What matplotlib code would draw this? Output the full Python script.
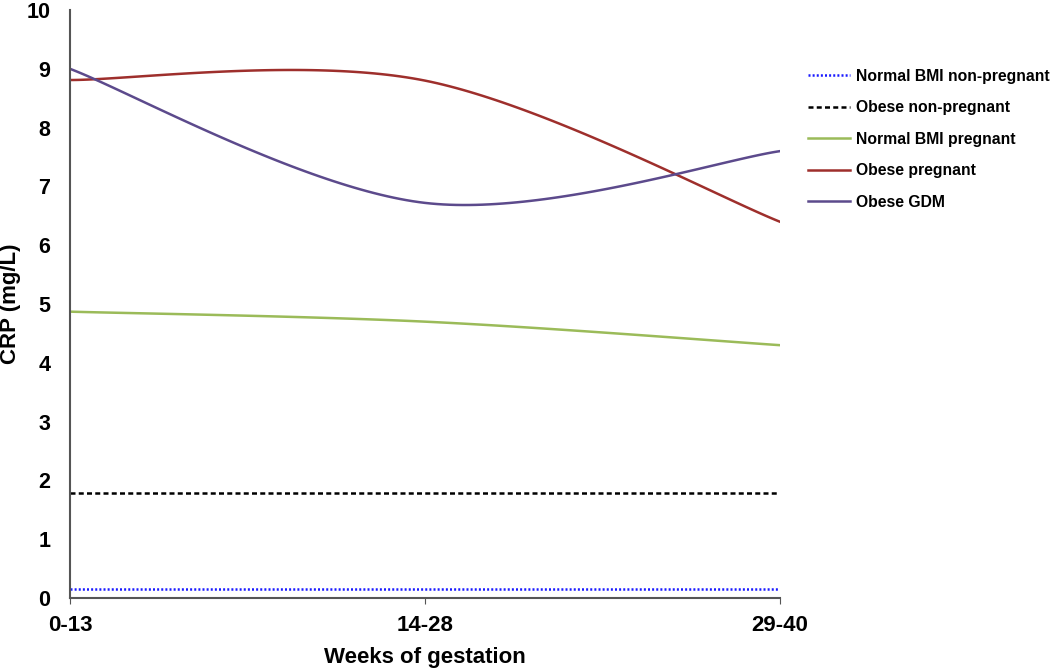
import numpy as np
import matplotlib.pyplot as plt

plt.rcParams['font.family'] = ['Liberation Sans', 'DejaVu Sans']
plt.rcParams['font.weight'] = 'bold'

weeks = ['0-13', '14-28', '29-40']

normal_nonpreg = [0.15, 0.15, 0.15]
obese_nonpreg = [1.78, 1.78, 1.78]
normal_preg = [4.87, 4.70, 4.30]
obese_preg = [8.81, 8.80, 6.40]
obese_gdm = [9.00, 6.72, 7.60]


def smooth(y, n=60):
    # excel-like smoothed line (catmull-rom as bezier segments)
    y = np.asarray(y, dtype=float)
    x = np.arange(len(y), dtype=float)
    pts = np.column_stack([x, y])
    ext = np.vstack([pts[0], pts, pts[-1]])
    out = []
    t = np.linspace(0, 1, n)[:, None]
    for i in range(len(pts) - 1):
        p0, p3 = ext[i + 1], ext[i + 2]
        p1 = p0 + (ext[i + 2] - ext[i]) / 6
        p2 = p3 - (ext[i + 3] - ext[i + 1]) / 6
        seg = ((1 - t) ** 3) * p0 + 3 * ((1 - t) ** 2) * t * p1 + 3 * (1 - t) * t ** 2 * p2 + t ** 3 * p3
        out.append(seg if i == 0 else seg[1:])
    out = np.vstack(out)
    return out[:, 0], out[:, 1]


fig = plt.figure(figsize=(10.5, 6.7), dpi=100)
ax = fig.add_axes([0.0667, 0.1075, 0.676, 0.8775])

series = [
    (normal_nonpreg, 'Normal BMI non-pregnant', '#1a1aff', (0, (0.8, 0.85))),
    (obese_nonpreg, 'Obese non-pregnant', 'black', (0, (2.0, 1.3))),
    (normal_preg, 'Normal BMI pregnant', '#9BBB59', '-'),
    (obese_preg, 'Obese pregnant', '#9E2F2C', '-'),
    (obese_gdm, 'Obese GDM', '#5C4A8C', '-'),
]
for vals, name, col, ls in series:
    xs, ys = smooth(vals)
    ax.plot(xs, ys, color=col, linestyle=ls, lw=1.8, label=name)

ax.set_xlim(0, 2)
ax.set_ylim(0, 10)
ax.set_xticks(range(len(weeks)))
ax.set_xticklabels(weeks, fontsize=16)
ax.set_yticks(range(0, 11))
ax.tick_params(axis='y', length=0, labelsize=15.5, pad=14)
ax.tick_params(axis='x', length=4, color='#555555', pad=8)
for s in ['top', 'right']:
    ax.spines[s].set_visible(False)
for s in ['left', 'bottom']:
    ax.spines[s].set_color('#555555')
    ax.spines[s].set_linewidth(1.5)

ax.set_xlabel('Weeks of gestation', fontsize=16, fontweight='bold')
ax.xaxis.set_label_coords(0.5, -0.084)
ax.set_ylabel('CRP (mg/L)', fontsize=16, fontweight='bold')
ax.yaxis.set_label_coords(-0.069, 0.5)

fig.legend(loc='upper left', bbox_to_anchor=(0.762, 0.909), frameon=False, fontsize=11.3,
           handlelength=2.7, handletextpad=0.35, labelspacing=1.05, borderpad=0)

plt.savefig('out.png')
